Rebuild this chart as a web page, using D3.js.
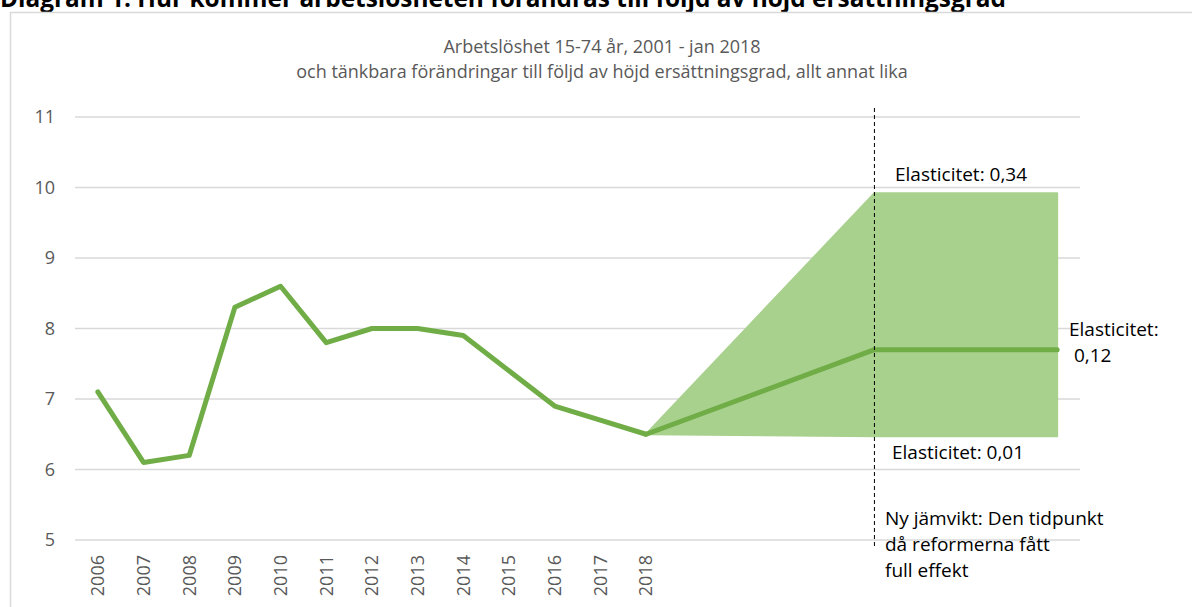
<!DOCTYPE html>
<html>
<head>
<meta charset="utf-8">
<script src="https://cdn.jsdelivr.net/npm/d3@7"></script>
<style>
  body { margin: 0; background: #fff; }
  text { font-family: "Open Sans", sans-serif; }
</style>
</head>
<body>
<div id="chart"></div>
<script>
// data
var years = ["2006", "2007", "2008", "2009", "2010", "2011", "2012", "2013", "2014", "2015", "2016", "2017", "2018"]
var unemployment = [7.1, 6.1, 6.2, 8.3, 8.6, 7.8, 8.0, 8.0, 7.9, 7.4, 6.9, 6.7, 6.5]
var futureSlots = 9
// projection: slot index (2018, new equilibrium, end of chart)
var projSlot = [12, 17, 21]
var projCentral = [6.5, 7.7, 7.7]
var projHigh = [6.5, 9.92, 9.92]
var projLow = [6.5, 6.47, 6.47]
var yTicks = [5, 6, 7, 8, 9, 10, 11]
var equilibriumSlot = 17

var title = "Diagram 1. Hur kommer arbetslösheten förändras till följd av höjd ersättningsgrad"
var subtitle = ["Arbetslöshet 15-74 år, 2001 - jan 2018",
                "och tänkbara förändringar till följd av höjd ersättningsgrad, allt annat lika"]

var width = 1192, height = 607

var svg = d3.select("#chart")
    .append("svg")
    .attr("width", width)
    .attr("height", height)

// heading, partly cut at the top
svg.append("text")
    .attr("x", 0)
    .attr("y", 7)
    .style("font-weight", "bold")
    .style("font-size", "24.4px")
    .attr("fill", "#000")
    .text(title)

// chart frame
svg.append("rect")
    .attr("x", 10.5)
    .attr("y", 12.5)
    .attr("width", 1200)
    .attr("height", 620)
    .attr("fill", "none")
    .attr("stroke", "#d9d9d9")
    .attr("stroke-width", 1.5)

svg.selectAll("text.sub")
    .data(subtitle)
    .enter()
    .append("text")
    .attr("class", "sub")
    .attr("x", 602)
    .attr("y", (d, i) => 53 + i * 25)
    .attr("text-anchor", "middle")
    .style("font-size", "18px")
    .attr("fill", "#595959")
    .text(d => d)

// scales
var scale_x = d3.scaleBand()
    .domain(d3.range(years.length + futureSlots))
    .range([75, 1080])

var scale_y = d3.scaleLinear()
    .domain([5, 11])
    .range([540, 117])

var cx = i => scale_x(i) + scale_x.bandwidth() / 2

// gridlines
svg.selectAll("line.grid")
    .data(yTicks)
    .enter()
    .append("line")
    .attr("class", "grid")
    .attr("x1", 75)
    .attr("x2", 1080)
    .attr("y1", d => scale_y(d))
    .attr("y2", d => scale_y(d))
    .attr("stroke", "#d9d9d9")
    .attr("stroke-width", 1.5)

// y axis labels
var yAxis = svg.append("g")
    .attr("transform", "translate(62,0)")
    .call(d3.axisLeft(scale_y).tickValues(yTicks).tickFormat(d3.format("d")).tickSize(0).tickPadding(7))
yAxis.select(".domain").remove()
yAxis.selectAll("text")
    .style("font-size", "18px")
    .style("font-family", "Open Sans, sans-serif")
    .attr("fill", "#595959")

// x axis labels (years only)
var xAxis = svg.append("g")
    .attr("transform", "translate(0,548)")
    .call(d3.axisBottom(scale_x).tickSize(0).tickFormat(i => years[i] || ""))
xAxis.select(".domain").remove()
xAxis.selectAll("text")
    .attr("transform", "rotate(-90)")
    .attr("text-anchor", "end")
    .attr("x", -7)
    .attr("y", 0)
    .attr("dy", "0.35em")
    .style("font-size", "18px")
    .style("font-family", "Open Sans, sans-serif")
    .attr("fill", "#595959")

// projection band
var band = projSlot.map((s, i) => ({slot: s, lo: projLow[i], hi: projHigh[i]}))
svg.append("path")
    .datum(band)
    .attr("d", d3.area()
        .x(d => cx(d.slot))
        .y0(d => scale_y(d.lo))
        .y1(d => scale_y(d.hi)))
    .attr("fill", "#a9d18e")
    .attr("stroke", "#a9d18e")
    .attr("stroke-width", 2)
    .attr("stroke-linejoin", "round")

// history line
var line = d3.line()
    .x(d => cx(d[0]))
    .y(d => scale_y(d[1]))

svg.append("path")
    .datum(unemployment.map((v, i) => [i, v]))
    .attr("d", line)
    .attr("fill", "none")
    .attr("stroke", "#70ad47")
    .attr("stroke-width", 5)
    .attr("stroke-linejoin", "round")
    .attr("stroke-linecap", "round")

// projected central line
svg.append("path")
    .datum(projSlot.map((s, i) => [s, projCentral[i]]))
    .attr("d", line)
    .attr("fill", "none")
    .attr("stroke", "#70ad47")
    .attr("stroke-width", 5)
    .attr("stroke-linejoin", "round")
    .attr("stroke-linecap", "round")

// new equilibrium marker
svg.append("line")
    .attr("x1", cx(equilibriumSlot))
    .attr("x2", cx(equilibriumSlot))
    .attr("y1", 108)
    .attr("y2", 548)
    .attr("stroke", "#000")
    .attr("stroke-width", 1)
    .attr("stroke-dasharray", "4,3")

// annotations
var notes = [
    {x: 895, y: 181, lines: ["Elasticitet: 0,34"]},
    {x: 1069, y: 336, lines: ["Elasticitet:", " 0,12"]},
    {x: 892, y: 459, lines: ["Elasticitet: 0,01"]},
    {x: 885, y: 525, lines: ["Ny jämvikt: Den tidpunkt", "då reformerna fått", "full effekt"]}
]
notes.forEach(function(n) {
    var t = svg.append("text")
        .attr("x", n.x)
        .attr("y", n.y)
        .style("font-size", "19px")
        .attr("fill", "#000")
        .attr("xml:space", "preserve")
    n.lines.forEach(function(l, i) {
        t.append("tspan")
            .attr("x", n.x)
            .attr("dy", i == 0 ? 0 : 26)
            .style("white-space", "pre")
            .text(l)
    })
})
</script>
</body>
</html>
